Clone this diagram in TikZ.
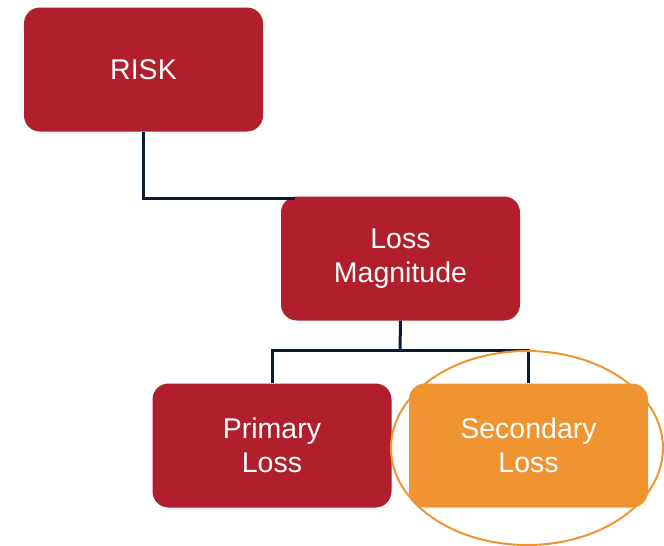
\documentclass[tikz,border=0pt]{standalone}
\usepackage{fontspec}
\setmainfont{Liberation Sans}
\definecolor{riskred}{HTML}{B01F2B}
\definecolor{lossorange}{HTML}{EF9431}
\definecolor{linknavy}{HTML}{0B1A33}
\begin{document}
\begin{tikzpicture}[x=1pt,y=-1pt,
  box/.style={rounded corners=16pt, fill=riskred, text=white, minimum width=239pt,
    minimum height=124pt, inner sep=0pt, align=center,
    font=\fontsize{28.5}{34.5}\selectfont},
  link/.style={draw=linknavy, line width=3pt}]
\useasboundingbox (0,0) rectangle (664,546);
\node[box] (risk) at (143.5,69.5) {RISK};
\node[box] (mag) at (400.5,258.5) {Loss\\Magnitude};
\node[box] (prim) at (272,445.5) {Primary\\Loss};
\node[box, fill=lossorange] (sec) at (528.5,445.5) {Secondary\\Loss};
\coordinate (bus) at (400,350);
\draw[link] (risk.south) |- (mag.west |- 0,198) -- ++(14,0);
\draw[link] (mag.south) -- (bus);
\draw[link] (prim.north) |- (bus) -| (sec.north);
\draw[lossorange, line width=2pt] (527,448) ellipse [x radius=136, y radius=97];
\end{tikzpicture}
\end{document}
